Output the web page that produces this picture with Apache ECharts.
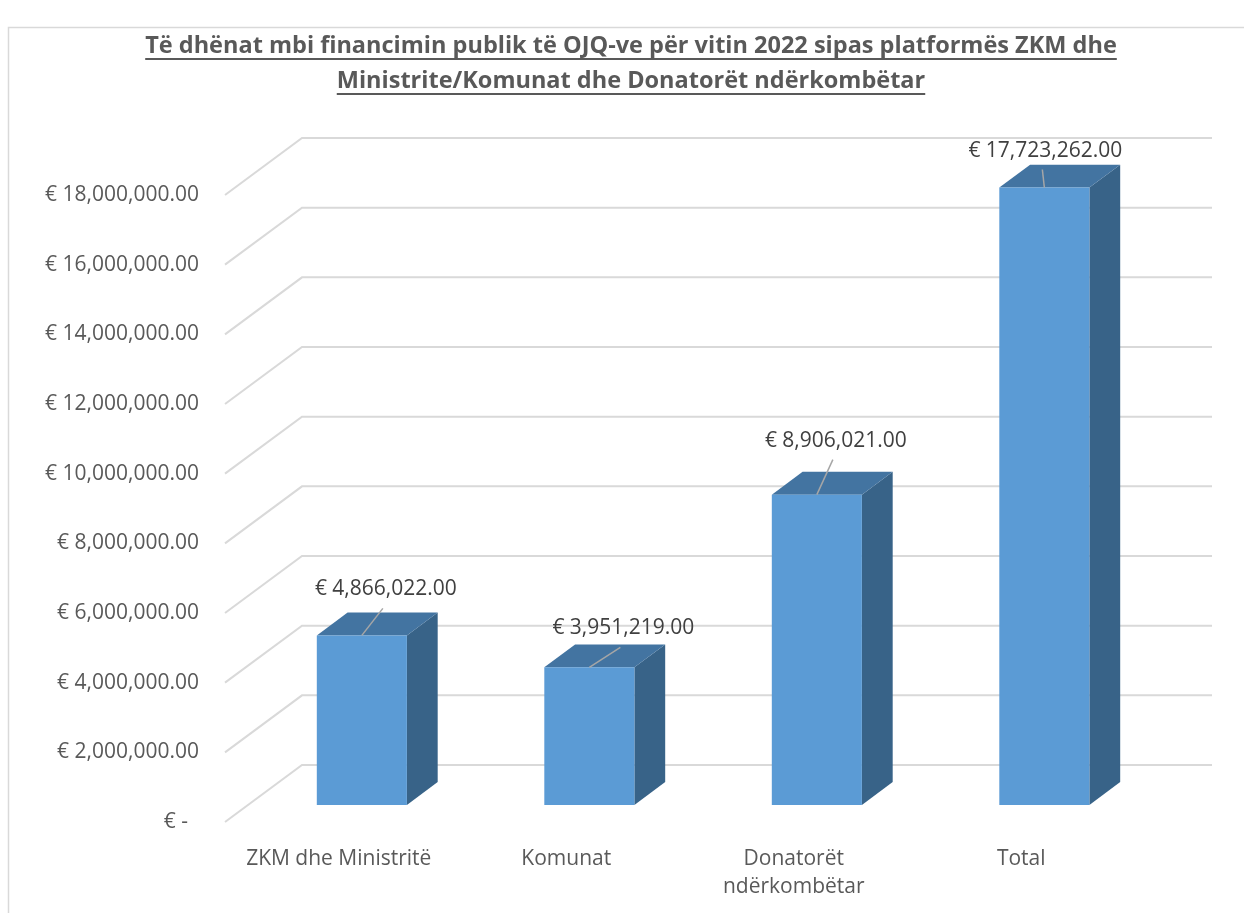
<!DOCTYPE html>
<html>
<head>
<meta charset="utf-8">
<script src="https://cdn.jsdelivr.net/npm/echarts@6/dist/echarts.min.js"></script>
<style>
html, body { margin: 0; padding: 0; background: #fff; }
#chart { width: 1244px; height: 913px; }
</style>
</head>
<body>
<div id="chart"></div>
<script>
// data
const categories = ["ZKM dhe Ministritë", "Komunat", "Donatorët\nndërkombëtar", "Total"]
const values = [4866022, 3951219, 8906021, 17723262]
const yTicks = [0, 2000000, 4000000, 6000000, 8000000, 10000000, 12000000, 14000000, 16000000, 18000000]
const titleLines = [
  "Të dhënat mbi financimin publik të OJQ-ve për vitin 2022 sipas platformës ZKM dhe",
  "Ministrite/Komunat dhe Donatorët ndërkombëtar",
]

// layout of the fake 3d box
const DEPTH = [77, -57]
const BAR_FRONT = 0.3
const BAR_BACK = 0.7
const BAR_RATIO = 0.396
// where each data label sits, relative to the bar's top front edge
const labelNudge = [[24, -46], [34, -39], [19, -54], [1, -37]]

const FONT = "'Open Sans', 'DejaVu Sans', sans-serif"
const TITLE_FONT = "'Liberation Sans Narrow', 'Open Sans', sans-serif"
const FS = 21

function euro(v) {
  if (v === 0) return "€ -  "
  return "€ " + v.toLocaleString("en-US", { minimumFractionDigits: 2, maximumFractionDigits: 2 })
}

function measure(text, font) {
  const ctx = document.createElement("canvas").getContext("2d")
  ctx.font = font
  return ctx.measureText(text).width
}

const chart = echarts.init(document.getElementById("chart"))

const titleX = 631
const titleYs = [46, 81]
const titleSize = 23.5
const titleGraphics = []
titleLines.forEach((t, i) => {
  titleGraphics.push({
    type: "text",
    x: titleX,
    y: titleYs[i],
    style: {
      text: t,
      font: "bold " + titleSize + "px " + TITLE_FONT,
      fill: "#595959",
      align: "center",
      verticalAlign: "middle",
    },
  })
  const w = measure(t, "bold " + titleSize + "px " + TITLE_FONT)
  titleGraphics.push({
    type: "line",
    shape: { x1: titleX - w / 2, y1: titleYs[i] + 13, x2: titleX + w / 2, y2: titleYs[i] + 13 },
    style: { stroke: "#595959", lineWidth: 2 },
  })
})

chart.setOption({
  animation: false,
  backgroundColor: "#fff",
  graphic: [
    {
      type: "rect",
      shape: { x: 8.5, y: 27.5, width: 1400, height: 1000 },
      style: { fill: "none", stroke: "#d9d9d9", lineWidth: 1.5 },
      silent: true,
    },
  ].concat(titleGraphics),
  grid: {
    left: 225,
    right: 109,
    top: 195,
    bottom: 91,
  },
  xAxis: {
    type: "category",
    data: categories,
    axisLine: { show: false },
    axisTick: { show: false },
    axisLabel: {
      margin: 23,
      fontFamily: FONT,
      fontSize: FS,
      color: "#595959",
      lineHeight: 28,
      interval: 0,
    },
  },
  yAxis: {
    type: "value",
    min: 0,
    max: 18000000,
    interval: 2000000,
    axisLine: { show: false },
    axisTick: { show: false },
    splitLine: { show: false },
    axisLabel: {
      margin: 26,
      fontFamily: FONT,
      fontSize: FS,
      color: "#595959",
      formatter: (v) => euro(v),
    },
  },
  series: [
    {
      // floor lines: front diagonal plus the back wall line
      type: "custom",
      z: 1,
      silent: true,
      data: yTicks.map((v) => [0, v]),
      renderItem(params, api) {
        const p = api.coord([0, api.value(1)])
        const left = params.coordSys.x
        const right = params.coordSys.x + params.coordSys.width
        return {
          type: "polyline",
          shape: {
            points: [
              [left, p[1]],
              [left + DEPTH[0], p[1] + DEPTH[1]],
              [right + DEPTH[0], p[1] + DEPTH[1]],
            ],
          },
          style: { stroke: "#d9d9d9", lineWidth: 2, fill: "none" },
        }
      },
    },
    {
      type: "custom",
      z: 2,
      data: values.map((v, i) => [i, v]),
      renderItem(params, api) {
        const i = api.value(0)
        const v = api.value(1)
        const base = api.coord([i, 0])
        const top = api.coord([i, v])
        const w = api.size([1, 0])[0] * BAR_RATIO
        const fx = DEPTH[0] * BAR_FRONT
        const fy = DEPTH[1] * BAR_FRONT
        const dx = DEPTH[0] * (BAR_BACK - BAR_FRONT)
        const dy = DEPTH[1] * (BAR_BACK - BAR_FRONT)
        const x0 = base[0] - w / 2 + fx
        const x1 = x0 + w
        const yb = base[1] + fy
        const yt = top[1] + fy
        const mid = (x0 + x1) / 2
        const n = labelNudge[i]
        const lx = mid + n[0]
        const ly = yt + n[1]
        return {
          type: "group",
          children: [
            {
              type: "polygon",
              shape: { points: [[x1, yt], [x1 + dx, yt + dy], [x1 + dx, yb + dy], [x1, yb]] },
              style: { fill: "#386388" },
            },
            {
              type: "polygon",
              shape: { points: [[x0, yt], [x1, yt], [x1 + dx, yt + dy], [x0 + dx, yt + dy]] },
              style: { fill: "#4374a1" },
            },
            {
              type: "rect",
              shape: { x: x0, y: yt, width: w, height: yb - yt },
              style: { fill: "#5b9bd5" },
            },
            {
              type: "line",
              shape: { x1: mid, y1: yt, x2: lx - 3, y2: ly + 19 },
              style: { stroke: "#a6a6a6", lineWidth: 1.5 },
            },
            {
              type: "text",
              x: lx,
              y: ly,
              style: {
                text: euro(v),
                font: FS + "px " + FONT,
                fill: "#404040",
                align: "center",
                verticalAlign: "middle",
              },
            },
          ],
        }
      },
    },
  ],
})
</script>
</body>
</html>
